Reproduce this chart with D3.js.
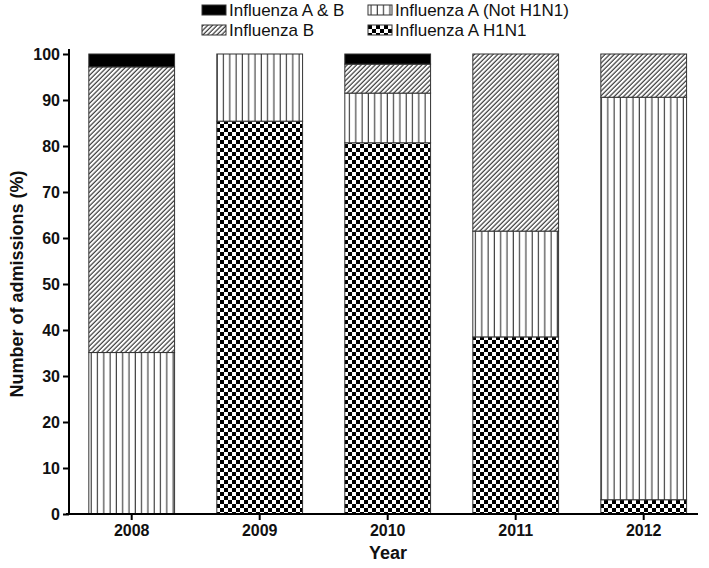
<!DOCTYPE html>
<html>
<head>
<meta charset="utf-8">
<script src="https://cdn.jsdelivr.net/npm/d3@7"></script>
<style>
  body { margin: 0; background: #fff; }
  svg { font-family: "Liberation Sans", Arial, sans-serif; }
</style>
</head>
<body>
<div id="chart"></div>
<script>
// data (percent of admissions)
const years = ["2008", "2009", "2010", "2011", "2012"];
const h1n1 = [0, 85.4, 80.7, 38.5, 3.1];
const aNotH1n1 = [35.1, 14.6, 10.8, 23.0, 87.5];
const fluB = [62.1, 0, 6.3, 38.5, 9.4];
const fluAB = [2.8, 0, 2.2, 0, 0];
const yTicks = [0, 10, 20, 30, 40, 50, 60, 70, 80, 90, 100];

const keys = ["h1n1", "aNot", "b", "ab"];
const labels = { ab: "Influenza A & B", aNot: "Influenza A (Not H1N1)", b: "Influenza B", h1n1: "Influenza A H1N1" };
const fills = { ab: "#000", aNot: "url(#vlines)", b: "url(#hatch)", h1n1: "url(#checker)" };

const rows = years.map((y, i) => ({ year: y, h1n1: h1n1[i], aNot: aNotH1n1[i], b: fluB[i], ab: fluAB[i] }));

const width = 709, height = 568;
const svg = d3.select("#chart").append("svg").attr("width", width).attr("height", height);

// patterns
const defs = svg.append("defs");
const vl = defs.append("pattern").attr("id", "vlines").attr("patternUnits", "userSpaceOnUse")
  .attr("width", 6.3).attr("height", 10);
vl.append("rect").attr("width", 6.3).attr("height", 10).attr("fill", "#fff");
vl.append("line").attr("x1", 3).attr("x2", 3).attr("y1", 0).attr("y2", 10)
  .attr("stroke", "#333").attr("stroke-width", 1.1);

const ht = defs.append("pattern").attr("id", "hatch").attr("patternUnits", "userSpaceOnUse")
  .attr("width", 3.3).attr("height", 10).attr("patternTransform", "rotate(45)");
ht.append("rect").attr("width", 3.3).attr("height", 10).attr("fill", "#fff");
ht.append("line").attr("x1", 1).attr("x2", 1).attr("y1", 0).attr("y2", 10)
  .attr("stroke", "#111").attr("stroke-width", 1);

const ck = defs.append("pattern").attr("id", "checker").attr("patternUnits", "userSpaceOnUse")
  .attr("width", 8).attr("height", 8);
ck.append("rect").attr("width", 8).attr("height", 8).attr("fill", "#fff");
ck.append("rect").attr("width", 4).attr("height", 4).attr("fill", "#000");
ck.append("rect").attr("x", 4).attr("y", 4).attr("width", 4).attr("height", 4).attr("fill", "#000");

// scales
const x = d3.scaleBand().domain(years).range([67.7, 707.7]).paddingInner(0.33).paddingOuter(0.165);
const y = d3.scaleLinear().domain([0, 100]).range([514, 54]);

// bars
const stacked = d3.stack().keys(keys)(rows);
svg.append("g").selectAll("g").data(stacked).join("g")
  .attr("fill", d => fills[d.key])
  .selectAll("rect").data(d => d.filter(s => s[1] - s[0] > 0)).join("rect")
  .attr("x", d => x(d.data.year))
  .attr("width", x.bandwidth())
  .attr("y", d => y(d[1]))
  .attr("height", d => y(d[0]) - y(d[1]))
  .attr("stroke", "#333").attr("stroke-width", 1);

// y axis
const yAxis = svg.append("g").attr("transform", "translate(69,0)")
  .call(d3.axisLeft(y).tickValues(yTicks).tickSize(6).tickSizeOuter(0).tickPadding(3));
yAxis.select(".domain").attr("d", "M0," + (y(0) + 1) + "V" + (y(100) - 5));
yAxis.selectAll("line, path").attr("stroke", "#000").attr("stroke-width", 2);
yAxis.selectAll("text").attr("font-size", 16).attr("font-weight", "bold")
  .attr("font-family", "Liberation Sans, Arial, sans-serif").attr("fill", "#111");

// x axis
const xAxis = svg.append("g").attr("transform", "translate(0," + y(0) + ")")
  .call(d3.axisBottom(x).tickSize(6).tickSizeOuter(0).tickPadding(5));
xAxis.select(".domain").attr("d", "M66,0H698");
xAxis.selectAll("line, path").attr("stroke", "#000").attr("stroke-width", 2);
xAxis.selectAll("text").attr("font-size", 16).attr("font-weight", "bold")
  .attr("font-family", "Liberation Sans, Arial, sans-serif").attr("fill", "#111");

// axis titles
svg.append("text").attr("x", 388).attr("y", 559).attr("text-anchor", "middle")
  .attr("font-size", 18).attr("font-weight", "bold").attr("fill", "#111").text("Year");
svg.append("text").attr("transform", "translate(23,284) rotate(-90)").attr("text-anchor", "middle")
  .attr("font-size", 18).attr("font-weight", "bold").attr("fill", "#111").text("Number of admissions (%)");

// legend
const legendItems = [
  { key: "ab", col: 0, row: 0 }, { key: "aNot", col: 1, row: 0 },
  { key: "b", col: 0, row: 1 }, { key: "h1n1", col: 1, row: 1 }
];
const lg = svg.append("g").selectAll("g").data(legendItems).join("g")
  .attr("transform", d => "translate(" + (d.col ? 368 : 202) + "," + (d.row ? 25 : 5) + ")");
lg.append("rect").attr("width", 24).attr("height", 10)
  .attr("fill", d => fills[d.key]).attr("stroke", "#333").attr("stroke-width", 1);
lg.append("text").attr("x", 27).attr("y", 11).attr("font-size", 17).attr("fill", "#111")
  .text(d => labels[d.key]);
</script>
</body>
</html>
